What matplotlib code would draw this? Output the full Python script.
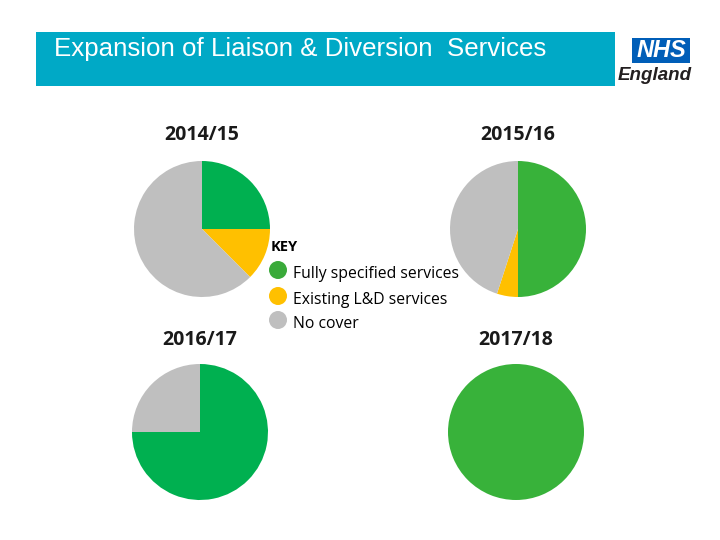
import matplotlib.pyplot as plt
from matplotlib.patches import Rectangle, Circle

# data
years = ['2014/15', '2015/16', '2016/17', '2017/18']
fully = [25, 50, 75, 100]
existing = [12.5, 5, 0, 0]
no_cover = [62.5, 45, 25, 0]
key_labels = ['Fully specified services', 'Existing L&D services', 'No cover']

greens = ['#00b050', '#38b23a', '#00b050', '#38b23a']
yellow = '#ffc000'
grey = '#bfbfbf'

centers = [(202, 229), (518, 229), (200, 432), (516, 432)]
title_pos = [(202, 135), (518, 135), (200, 340), (516, 340)]
H = 540

fig = plt.figure(figsize=(7.2, 5.4), dpi=100)
ax = fig.add_axes([0, 0, 1, 1])

for i in range(4):
    cx, cy = centers[i]
    ax.pie([fully[i], existing[i], no_cover[i]], colors=[greens[i], yellow, grey],
           startangle=90, counterclock=False, radius=68, center=(cx, H - cy),
           wedgeprops=dict(linewidth=0))
    tx, ty = title_pos[i]
    ax.text(tx, H - ty, years[i], ha='center', va='center', fontsize=14,
            fontweight='bold', family='Open Sans', color='#1a1a1a')

# title bar
ax.add_patch(Rectangle((36, H - 86), 579, 54, color='#00a9c6', lw=0))
ax.text(54, H - 49, 'Expansion of Liaison & Diversion  Services', fontsize=18.6,
        color='white', family='Liberation Sans', va='center', ha='left')

# NHS England logo
ax.add_patch(Rectangle((632, H - 63), 58, 25, color='#005eb8', lw=0))
ax.text(661, H - 50.5, 'NHS', fontsize=17, color='white', fontweight='bold',
        style='italic', family='Liberation Sans', ha='center', va='center')
ax.text(692, H - 75, 'England', fontsize=13.5, color='#231f20', fontweight='bold',
        style='italic', family='Liberation Sans', ha='right', va='center')

# key
ax.text(271, H - 247, 'KEY', fontsize=10.5, fontweight='bold', family='Open Sans',
        va='center', ha='left')
key_colors = ['#3aaa3a', yellow, grey]
key_y = [270, 296, 320]
for j, lab in enumerate(key_labels):
    y = key_y[j]
    ax.add_patch(Circle((278, H - y), 9, color=key_colors[j], lw=0))
    ax.text(293, H - y - 4, lab, fontsize=11.3, family='Open Sans', va='center', ha='left')

ax.set_xlim(0, 720)
ax.set_ylim(0, H)
ax.set_aspect('equal')
ax.axis('off')

fig.savefig('out.png', dpi=100)
